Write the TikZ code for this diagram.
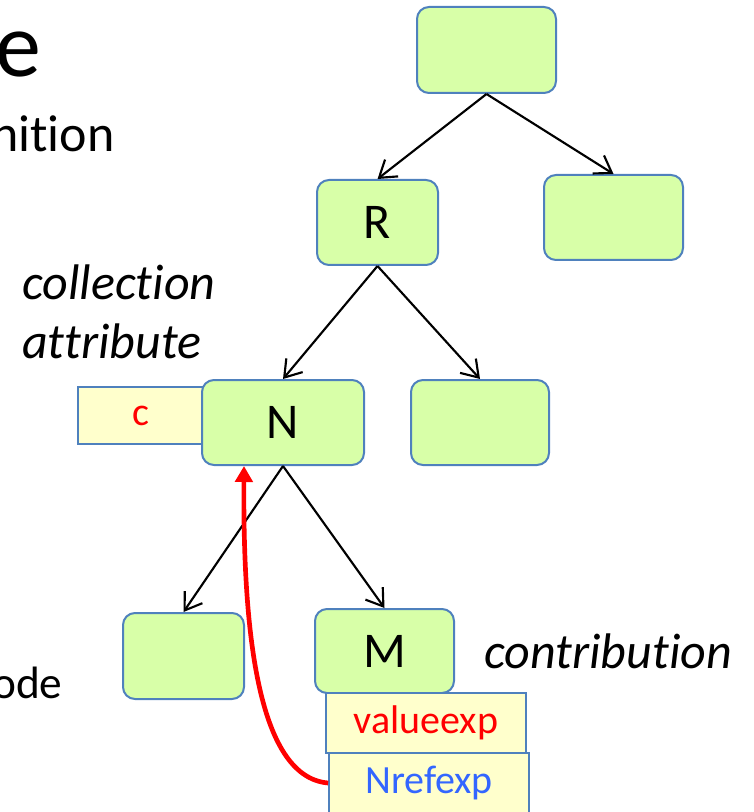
\documentclass[tikz,border=0pt]{standalone}
\usepackage{fontspec}
\setmainfont[Ligatures=NoCommon]{Carlito}
\usetikzlibrary{arrows.meta,calc}
\definecolor{nodegreen}{RGB}{216,255,168}
\definecolor{nodeblue}{RGB}{79,129,189}
\definecolor{attryellow}{RGB}{255,255,204}
\definecolor{refblue}{RGB}{51,102,255}
\begin{document}
\begin{tikzpicture}[x=0.75pt,y=-0.75pt,
  treenode/.style={draw=nodeblue, fill=nodegreen, line width=1.5pt, rounded corners=9pt,
    inner sep=0pt, font=\fontsize{37.5}{45}\selectfont},
  attrbox/.style={draw=nodeblue, fill=attryellow, line width=1.3pt, inner sep=0pt,
    font=\fontsize{30}{36}\selectfont},
  treeedge/.style={-{Straight Barb[length=12pt,width=16pt,line width=1.6pt]}, line width=1.6pt},
  refarrow/.style={-{Triangle[length=12pt,width=13pt,fill=red]}, draw=red, line width=3.5pt},
  slidetext/.style={anchor=base west, inner sep=0pt, font=\fontsize{39}{47}\selectfont},
  italtext/.style={anchor=base west, inner sep=0pt, font=\fontsize{37.5}{45}\selectfont\itshape}]
\useasboundingbox (0,0) rectangle (753,812);

% cropped slide text
\node[anchor=base west, inner sep=0pt, font=\fontsize{69}{76}\selectfont] (title) at (-5,77) {e};
\node[slidetext] (defn) at (-9,152) {nition};
\node[anchor=base west, inner sep=0pt, font=\fontsize{34}{40}\selectfont] (nodetxt) at (-8,698) {ode};
\node[italtext] (coll) at (22,300) {collection};
\node[italtext] (attr) at (22,358) {attribute};
\node[italtext] (contrib) at (484,668) {contribution};

% tree
\node[treenode, minimum width=139*0.75pt, minimum height=86*0.75pt] (top) at (486.5,50) {};
\node[treenode, minimum width=121*0.75pt, minimum height=85*0.75pt] (R) at (377.5,222.5) {R};
\node[treenode, minimum width=139*0.75pt, minimum height=85*0.75pt] (rt) at (613.5,217.5) {};
\node[attrbox, minimum width=126*0.75pt, minimum height=57*0.75pt, text=red] (c) at (141,415.5) {c};
\node[treenode, minimum width=162*0.75pt, minimum height=85*0.75pt] (N) at (283,422.5) {N};
\node[treenode, minimum width=138*0.75pt, minimum height=85*0.75pt] (rn) at (480,422.5) {};
\node[treenode, minimum width=121*0.75pt, minimum height=86*0.75pt] (bl) at (183.5,656) {};
\node[treenode, minimum width=139*0.75pt, minimum height=84*0.75pt] (M) at (384.5,651) {M};
\node[attrbox, minimum width=200*0.75pt, minimum height=60*0.75pt, text=red] (val) at (426,723) {valueexp};
\node[attrbox, minimum width=200*0.75pt, minimum height=60*0.75pt, text=refblue] (nref) at (429,783) {Nrefexp};

\draw[treeedge] (top.south) -- (R.north);
\draw[treeedge] (top.south) -- (rt.north);
\draw[treeedge] (R.south) -- (N.north);
\draw[treeedge] (R.south) -- (rn.north);
\draw[treeedge] (N.south) -- (bl.north);
\draw[treeedge] (N.south) -- (M.north);

\coordinate (Nref) at ($(N.south)+(-39,0)$);
\draw[refarrow] (nref.west) .. controls (255,777) and (243,620) .. (Nref);
\end{tikzpicture}
\end{document}
